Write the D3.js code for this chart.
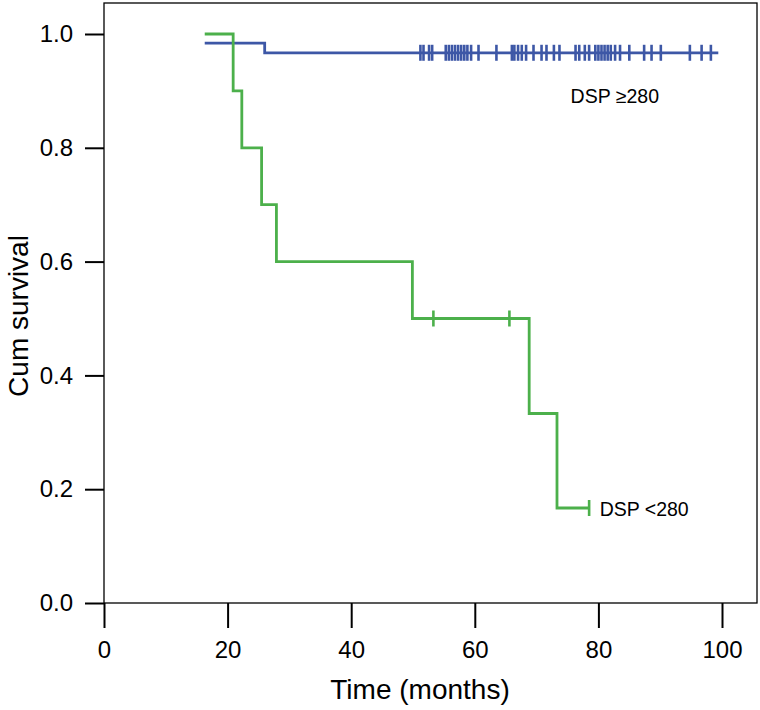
<!DOCTYPE html>
<html>
<head>
<meta charset="utf-8">
<script src="https://cdn.jsdelivr.net/npm/d3@7"></script>
<style>
  html, body { margin: 0; padding: 0; background: #fff; }
  svg { display: block; font-family: "Liberation Sans", Arial, Helvetica, sans-serif; }
</style>
</head>
<body>
<svg id="chart" width="760" height="710"></svg>
<script>
// ---- Data ----
const xTicks = [0, 20, 40, 60, 80, 100];
const yTicks = [0.0, 0.2, 0.4, 0.6, 0.8, 1.0];

// DSP >= 280 : step points [time, survival]
const highSteps = [[16.3, 0.984], [26.0, 0.967], [99.4, 0.967]];
const highCensor = [51.2, 51.7, 52.6, 53.1, 55.3, 55.8, 56.3, 56.8, 57.3, 57.8, 58.3, 58.8, 59.4,
  60.6, 63.5, 66.0, 66.4, 67.0, 67.6, 68.3, 69.5, 70.8, 71.6, 72.8, 73.7, 76.3, 76.9, 77.8, 78.5,
  79.5, 80.0, 80.5, 81.0, 81.5, 82.0, 82.7, 83.5, 85.0, 87.4, 88.6, 90.1, 94.8, 96.7, 98.2];

// DSP < 280
const lowSteps = [[16.3, 1.0], [20.9, 0.9], [22.3, 0.8], [25.5, 0.7], [27.9, 0.6], [49.9, 0.5],
  [68.8, 0.333], [73.3, 0.167], [78.5, 0.167]];
const lowCensor = [[53.3, 0.5], [65.6, 0.5], [78.5, 0.167]];

const labels = [
  { text: "DSP \u2265280", t: 75.5, s: 0.89 },
  { text: "DSP <280", t: 80.2, s: 0.165 }
];

// ---- Layout ----
const svg = d3.select("#chart");
const x = d3.scaleLinear().domain([0, 100]).range([104, 722]);
const y = d3.scaleLinear().domain([0, 1]).range([603, 34]);
const blue = "#3d57a6", green = "#4cb04b";

// frame
svg.append("rect").attr("x", 104).attr("y", 3).attr("width", 653).attr("height", 600)
  .attr("fill", "none").attr("stroke", "#000").attr("stroke-width", 1.3);

// axes
const xAxis = svg.append("g").attr("transform", "translate(0,603)")
  .call(d3.axisBottom(x).tickValues(xTicks).tickSize(25).tickPadding(13).tickFormat(d3.format("d")));
const yAxis = svg.append("g").attr("transform", "translate(104,0)")
  .call(d3.axisLeft(y).tickValues(yTicks).tickSize(19).tickPadding(12).tickFormat(d3.format(".1f")));
[xAxis, yAxis].forEach(g => {
  g.select(".domain").remove();
  g.selectAll(".tick line").attr("stroke", "#000").attr("stroke-width", 2);
  g.selectAll(".tick text").attr("fill", "#000").style("font-size", "24px")
    .style("font-family", "\"Liberation Sans\", Arial, sans-serif");
});

// axis titles
svg.append("text").attr("x", 420).attr("y", 699).attr("text-anchor", "middle")
  .style("font-size", "28px").text("Time (months)");
svg.append("text").attr("transform", "translate(28,316) rotate(-90)").attr("text-anchor", "middle")
  .style("font-size", "28px").text("Cum survival");

// step lines
const line = d3.line().x(d => x(d[0])).y(d => y(d[1])).curve(d3.curveStepAfter);
svg.append("path").datum(highSteps).attr("d", line).attr("fill", "none")
  .attr("stroke", blue).attr("stroke-width", 2.8);
svg.append("path").datum(lowSteps).attr("d", line).attr("fill", "none")
  .attr("stroke", green).attr("stroke-width", 2.8);

// censor marks
const tickH = 8;
svg.append("g").selectAll("line").data(highCensor).join("line")
  .attr("x1", d => x(d)).attr("x2", d => x(d))
  .attr("y1", y(0.967) - tickH).attr("y2", y(0.967) + tickH)
  .attr("stroke", blue).attr("stroke-width", 2.6);
svg.append("g").selectAll("line").data(lowCensor).join("line")
  .attr("x1", d => x(d[0])).attr("x2", d => x(d[0]))
  .attr("y1", d => y(d[1]) - tickH).attr("y2", d => y(d[1]) + tickH)
  .attr("stroke", green).attr("stroke-width", 2.6);

// annotations
svg.append("g").selectAll("text").data(labels).join("text")
  .attr("x", d => x(d.t)).attr("y", d => y(d.s)).attr("dy", "0.35em")
  .style("font-size", "19.5px").attr("fill", "#000").text(d => d.text);
</script>
</body>
</html>
